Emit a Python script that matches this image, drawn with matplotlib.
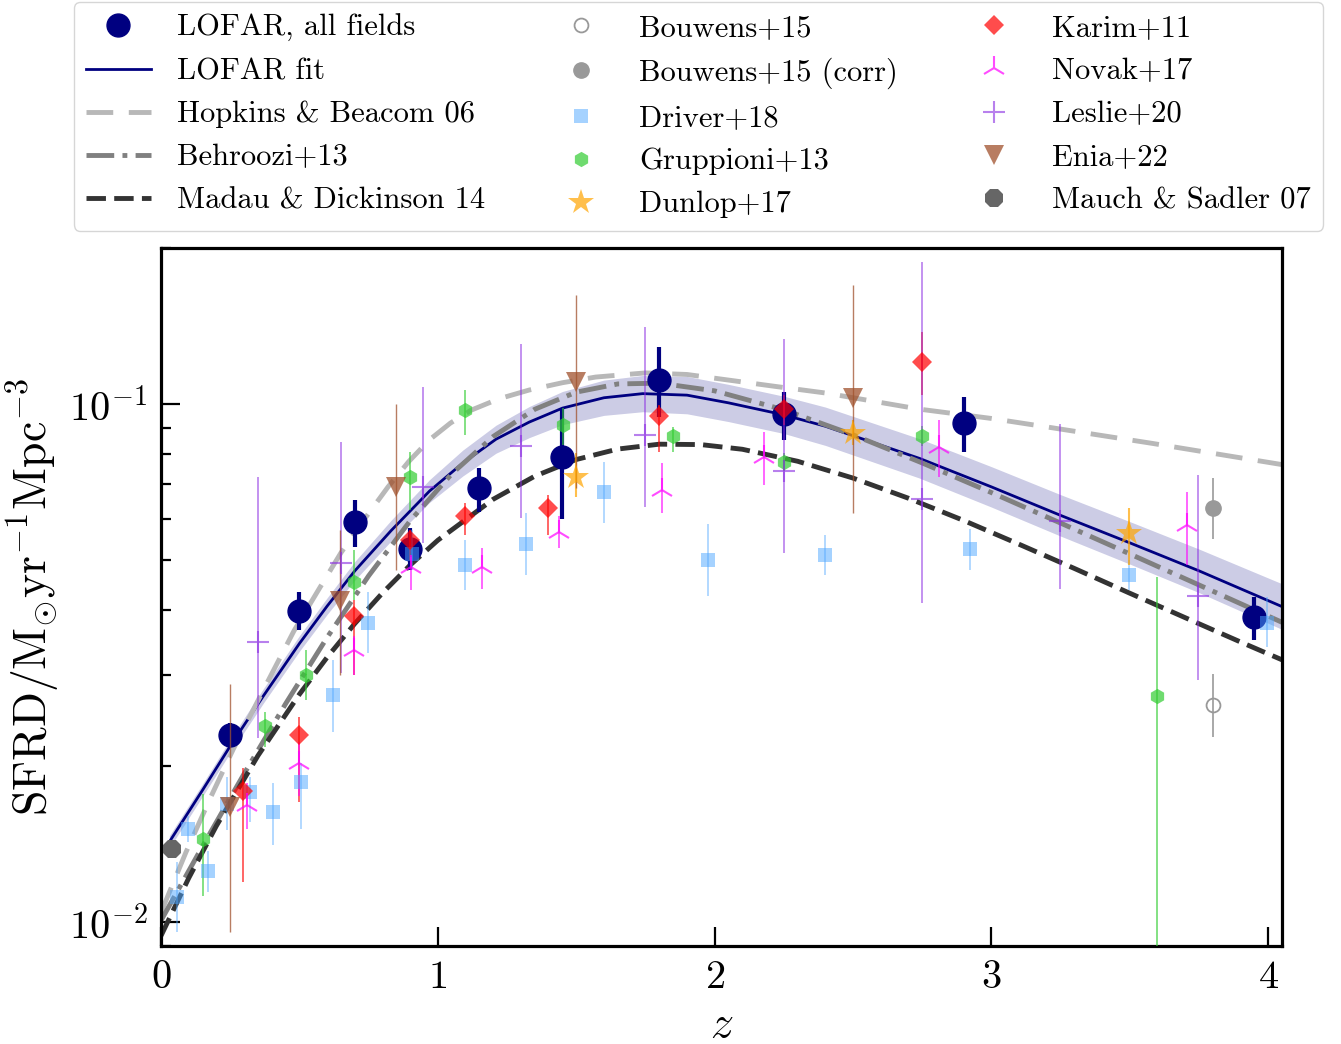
import matplotlib
matplotlib.use('Agg')
import matplotlib.pyplot as plt
from matplotlib.lines import Line2D
from matplotlib.ticker import NullFormatter

plt.rcParams['font.family'] = 'serif'
plt.rcParams['font.serif'] = ['cmr10']
plt.rcParams['mathtext.fontset'] = 'cm'
plt.rcParams['axes.formatter.use_mathtext'] = True

# LOFAR, all fields
lofar_z = [0.25, 0.5, 0.7, 0.9, 1.15, 1.45, 1.8, 2.25, 2.9, 3.95]
lofar_sfrd = [0.0230, 0.0399, 0.0593, 0.0526, 0.0689, 0.0791, 0.111, 0.0957, 0.0919, 0.0388]
lofar_lo = [0.0012, 0.0032, 0.0063, 0.0047, 0.0070, 0.0191, 0.0166, 0.0104, 0.0111, 0.0037]
lofar_hi = [0.0012, 0.0035, 0.0060, 0.0051, 0.0064, 0.0191, 0.0180, 0.0097, 0.0112, 0.0037]

# LOFAR fit and its uncertainty band
fit_z = [0.03, 0.15, 0.25, 0.37, 0.5, 0.6, 0.7, 0.83, 0.97, 1.09, 1.21, 1.33, 1.45, 1.6,
         1.74, 1.9, 2.05, 2.25, 2.4, 2.74, 3.0, 3.25, 3.5, 3.75, 4.05]
fit_sfrd = [0.01429, 0.01799, 0.02188, 0.02735, 0.03451, 0.04074, 0.04764, 0.05689, 0.06792,
            0.07691, 0.08551, 0.09226, 0.09817, 0.1028, 0.1047, 0.1040, 0.1005, 0.09528,
            0.09057, 0.07852, 0.06918, 0.06095, 0.05395, 0.04764, 0.04064]
fit_lo = [0.01390, 0.01750, 0.02123, 0.02649, 0.03334, 0.03926, 0.04571, 0.05433, 0.06457,
          0.07261, 0.08035, 0.08610, 0.09120, 0.09506, 0.09661, 0.09572, 0.09247, 0.08770,
          0.08318, 0.07194, 0.06324, 0.05559, 0.04909, 0.04325, 0.03673]
fit_hi = [0.01469, 0.01849, 0.02254, 0.02825, 0.03573, 0.04227, 0.04966, 0.05957, 0.07145,
          0.08147, 0.09099, 0.09886, 0.1057, 0.1112, 0.1135, 0.1130, 0.1091, 0.1035,
          0.09863, 0.08570, 0.07568, 0.06683, 0.05929, 0.05248, 0.04498]

# model curves
hb_z = [0.0, 0.09, 0.18, 0.26, 0.38, 0.48, 0.565, 0.65, 0.735, 0.82, 0.895, 0.97, 1.045,
        1.12, 1.22, 1.33, 1.45, 1.57, 1.75, 1.9, 2.05, 2.22, 2.4, 2.74, 3.0, 3.22, 3.58, 4.05]
hb_sfrd = [0.01045, 0.01365, 0.01746, 0.02153, 0.02877, 0.03648, 0.04345, 0.05164, 0.05998,
           0.06918, 0.07745, 0.08531, 0.09183, 0.09727, 0.1023, 0.1064, 0.1099, 0.1127,
           0.1148, 0.1140, 0.1112, 0.1081, 0.1050, 0.09772, 0.09376, 0.08995, 0.08395,
           0.07638]
beh_z = [0.0, 0.15, 0.3, 0.45, 0.6, 0.75, 0.9, 1.05, 1.2, 1.35, 1.5, 1.65, 1.8, 2.0, 2.25,
         2.5, 2.75, 3.0, 3.25, 3.5, 3.75, 4.05]
beh_sfrd = [0.01008, 0.01402, 0.01934, 0.02640, 0.03545, 0.04661, 0.05951, 0.07330, 0.08654,
            0.09766, 0.1054, 0.1093, 0.1097, 0.1060, 0.09743, 0.08719, 0.07694, 0.06745,
            0.05890, 0.05136, 0.04474, 0.03790]
md_z = [0.0, 0.1, 0.2, 0.35, 0.5, 0.6, 0.7, 0.8, 0.9, 1.0, 1.2, 1.35, 1.5, 1.65, 1.8, 1.95,
        2.1, 2.3, 2.5, 2.7, 2.9, 3.1, 3.3, 3.5, 3.7, 3.9, 4.05]
md_sfrd = [0.00942, 0.01217, 0.01535, 0.02096, 0.02754, 0.03245, 0.0377, 0.04319, 0.04888,
           0.05459, 0.06549, 0.07255, 0.07813, 0.08185, 0.08364, 0.08349, 0.08177, 0.07752,
           0.07194, 0.06578, 0.05958, 0.05361, 0.04814, 0.04313, 0.03869, 0.03473, 0.03208]

# literature points
bou_z = [3.8]
bou_sfrd = [0.0262]
bou_lo = [0.0034]
bou_hi = [0.0039]
bouc_z = [3.8]
bouc_sfrd = [0.0630]
bouc_lo = [0.0081]
bouc_hi = [0.0090]

drv_z = [0.058, 0.097, 0.17, 0.238, 0.321, 0.404, 0.505, 0.62, 0.747, 0.906, 1.097, 1.32,
         1.599, 1.975, 2.40, 2.924, 3.498, 3.996]
drv_sfrd = [0.01117, 0.01511, 0.01254, 0.01688, 0.0178, 0.0163, 0.01862, 0.02749, 0.0378,
            0.0514, 0.049, 0.0537, 0.0677, 0.0501, 0.0512, 0.0526, 0.0468, 0.0378]
drv_lo = [0.0016, 0.00085, 0.0011, 0.0018, 0.0022, 0.0022, 0.0035, 0.0042, 0.0047, 0.0035,
          0.0052, 0.0070, 0.0087, 0.0074, 0.0044, 0.0047, 0.0030, 0.0038]
drv_hi = [0.0019, 0.0009, 0.0012, 0.0022, 0.0013, 0.0023, 0.0017, 0.0046, 0.0056, 0.0058,
          0.0057, 0.0080, 0.0096, 0.0086, 0.0047, 0.0048, 0.0033, 0.0047]

grp_z = [0.152, 0.375, 0.523, 0.697, 0.899, 1.097, 1.451, 1.848, 2.249, 2.748, 3.599]
grp_sfrd = [0.01445, 0.02396, 0.03004, 0.0454, 0.0723, 0.0974, 0.0911, 0.0868, 0.0773,
            0.0868, 0.02737]
grp_lo = [0.00323, 0.00213, 0.00315, 0.0035, 0.0098, 0.0102, 0.0077, 0.006, 0.003, 0.004,
          0.0270]
grp_hi = [0.00319, 0.00154, 0.00353, 0.0069, 0.0085, 0.0090, 0.0071, 0.0035, 0.003, 0.004,
          0.0190]

dun_z = [1.498, 2.498, 3.498]
dun_sfrd = [0.0723, 0.0879, 0.0564]
dun_lo = [0.0061, 0.0045, 0.0074]
dun_hi = [0.0081, 0.0053, 0.0066]

kar_z = [0.296, 0.498, 0.697, 0.899, 1.097, 1.397, 1.798, 2.249, 2.748]
kar_sfrd = [0.01788, 0.02293, 0.03905, 0.0547, 0.0608, 0.063, 0.0948, 0.0978, 0.1205]
kar_lo = [0.0059, 0.0059, 0.0091, 0.0046, 0.0049, 0.0071, 0.014, 0.0067, 0.0164]
kar_hi = [0.0020, 0.0020, 0.0029, 0.0025, 0.0036, 0.0038, 0.0048, 0.0063, 0.0171]

nov_z = [0.31, 0.498, 0.697, 0.903, 1.16, 1.437, 1.809, 2.177, 2.809, 3.708]
nov_sfrd = [0.0168, 0.02033, 0.03357, 0.0485, 0.0485, 0.0567, 0.0683, 0.079, 0.0826, 0.0585]
nov_lo = [0.0017, 0.0028, 0.0036, 0.0047, 0.0045, 0.0040, 0.0066, 0.0092, 0.0103, 0.0095]
nov_hi = [0.0018, 0.0019, 0.0021, 0.0022, 0.0042, 0.0040, 0.0087, 0.0093, 0.0106, 0.0092]

les_z = [0.35, 0.65, 0.946, 1.30, 1.747, 2.249, 2.748, 3.249, 3.747]
les_sfrd = [0.0348, 0.0494, 0.0692, 0.083, 0.0872, 0.0743, 0.0656, 0.0595, 0.0427]
les_lo = [0.0121, 0.0191, 0.0152, 0.0227, 0.0239, 0.0227, 0.0243, 0.0155, 0.0133]
les_hi = [0.0375, 0.0351, 0.0386, 0.0475, 0.0535, 0.0591, 0.1221, 0.032, 0.0303]

enia_z = [0.249, 0.646, 0.848, 1.498, 2.498]
enia_sfrd = [0.01666, 0.0417, 0.0692, 0.1103, 0.1027]
enia_lo = [0.0071, 0.0117, 0.0213, 0.0414, 0.041]
enia_hi = [0.0121, 0.0155, 0.0308, 0.0519, 0.0668]

mau_z = [0.04]
mau_sfrd = [0.01382]

fig = plt.figure(figsize=(13.41, 10.44), dpi=100)
ax = fig.add_axes([0.1201, 0.0939, 0.836, 0.6686])

ax.fill_between(fit_z, fit_lo, fit_hi, color='navy', alpha=0.2, lw=0, zorder=1)
ax.plot(fit_z, fit_sfrd, color='navy', lw=2.0, zorder=2)
ax.plot(hb_z, hb_sfrd, color='#b8b8b8', lw=3.5, dashes=(5.5, 3.2), zorder=2)
ax.plot(beh_z, beh_sfrd, color='#808080', lw=3.5, dashes=(5.7, 1.7, 1.0, 1.7), zorder=2)
ax.plot(md_z, md_sfrd, color='#333333', lw=3.5, dashes=(4.0, 1.7), zorder=2)

ax.errorbar(lofar_z, lofar_sfrd, yerr=[lofar_lo, lofar_hi], fmt='o', color='navy', ms=16.5,
            elinewidth=3.0, capsize=0, zorder=3)

ax.errorbar(bou_z, bou_sfrd, yerr=[bou_lo, bou_hi], fmt='o', mfc='none', mec='#999999',
            ecolor='#999999', ms=10, mew=1.3, elinewidth=1.2, zorder=4)
ax.errorbar(bouc_z, bouc_sfrd, yerr=[bouc_lo, bouc_hi], fmt='o', color='#999999', ms=11,
            elinewidth=1.2, zorder=4)
ax.errorbar(drv_z, drv_sfrd, yerr=[drv_lo, drv_hi], fmt='s', color='#4da6ff', alpha=0.5,
            ms=10.5, mew=0, elinewidth=1.2, zorder=4)
ax.errorbar(grp_z, grp_sfrd, yerr=[grp_lo, grp_hi], fmt='h', color='limegreen', alpha=0.7,
            ms=11, mew=0, elinewidth=1.2, zorder=4)
ax.errorbar(dun_z, dun_sfrd, yerr=[dun_lo, dun_hi], fmt='*', color='orange', alpha=0.7,
            ms=19, mew=0, elinewidth=1.5, zorder=4)
ax.errorbar(kar_z, kar_sfrd, yerr=[kar_lo, kar_hi], fmt='D', color='red', alpha=0.7,
            ms=10, mew=0, elinewidth=1.2, zorder=4)
ax.errorbar(nov_z, nov_sfrd, yerr=[nov_lo, nov_hi], fmt='2', color='magenta', alpha=0.7,
            ms=18, mew=1.5, elinewidth=1.2, zorder=4)
ax.errorbar(les_z, les_sfrd, yerr=[les_lo, les_hi], fmt='+', color='blueviolet', alpha=0.6,
            ms=16, mew=1.5, elinewidth=1.2, zorder=4)
ax.errorbar(enia_z, enia_sfrd, yerr=[enia_lo, enia_hi], fmt='v', color='sienna', alpha=0.75,
            ms=14, mew=0, elinewidth=1.0, zorder=4)
ax.plot(mau_z, mau_sfrd, '8', color='#666666', ms=14, mew=0, zorder=4)

ax.set_yscale('log')
ax.set_xlim(0, 4.05)
ax.set_ylim(0.009, 0.2)
ax.set_xticks([0, 1, 2, 3, 4])
ax.yaxis.set_minor_formatter(NullFormatter())
ax.tick_params(which='both', direction='in', top=False, right=False, labelsize=29)
ax.tick_params(which='major', length=14, width=1.6, pad=10)
ax.tick_params(which='minor', length=7, width=1.6)
for s in ax.spines.values():
    s.set_linewidth(2.3)
ax.set_xlabel(r'$z$', fontsize=33, labelpad=6)
ax.set_ylabel(r'SFRD/M$_{\odot}$yr$^{-1}$Mpc$^{-3}$', fontsize=33, labelpad=5)

handles = [
    Line2D([], [], ls='none', marker='o', color='navy', ms=16.5, label='LOFAR, all fields'),
    Line2D([], [], color='navy', lw=2.0, label='LOFAR fit'),
    Line2D([], [], color='#b8b8b8', lw=3.5, dashes=(5.5, 3.2), label='Hopkins & Beacom 06'),
    Line2D([], [], color='#808080', lw=3.5, dashes=(5.7, 1.7, 1.0, 1.7), label='Behroozi+13'),
    Line2D([], [], color='#333333', lw=3.5, dashes=(4.0, 1.7), label='Madau & Dickinson 14'),
    Line2D([], [], ls='none', marker='o', mfc='none', mec='#999999', ms=10, mew=1.3,
           label='Bouwens+15'),
    Line2D([], [], ls='none', marker='o', color='#999999', ms=11, label='Bouwens+15 (corr)'),
    Line2D([], [], ls='none', marker='s', color='#4da6ff', alpha=0.5, ms=10.5, mew=0,
           label='Driver+18'),
    Line2D([], [], ls='none', marker='h', color='limegreen', alpha=0.7, ms=11, mew=0,
           label='Gruppioni+13'),
    Line2D([], [], ls='none', marker='*', color='orange', alpha=0.7, ms=19, mew=0,
           label='Dunlop+17'),
    Line2D([], [], ls='none', marker='D', color='red', alpha=0.7, ms=10, mew=0,
           label='Karim+11'),
    Line2D([], [], ls='none', marker='2', color='magenta', alpha=0.7, ms=18, mew=1.5,
           label='Novak+17'),
    Line2D([], [], ls='none', marker='+', color='blueviolet', alpha=0.6, ms=16, mew=1.5,
           label='Leslie+20'),
    Line2D([], [], ls='none', marker='v', color='sienna', alpha=0.75, ms=14, mew=0,
           label='Enia+22'),
    Line2D([], [], ls='none', marker='8', color='#666666', ms=14, mew=0,
           label='Mauch & Sadler 07'),
]
fig.legend(handles=handles, loc='upper center', bbox_to_anchor=(0.521, 1.001), ncol=3,
           fontsize=22, frameon=True, fancybox=True, edgecolor='#cccccc',
           handlelength=2.1, handletextpad=0.85, columnspacing=2.1, labelspacing=0.51,
           borderpad=0.4, borderaxespad=0.1)

fig.savefig('out.png', dpi=100)
